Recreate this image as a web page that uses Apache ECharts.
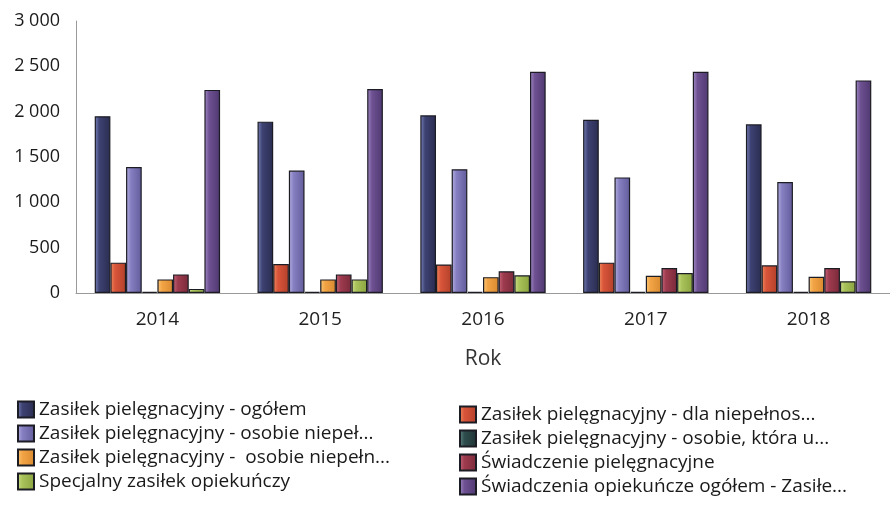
<!DOCTYPE html>
<html>
<head>
<meta charset="utf-8">
<script src="https://cdn.jsdelivr.net/npm/echarts@6/dist/echarts.min.js"></script>
<style>
  html, body { margin: 0; padding: 0; background: #ffffff; }
  #chart { width: 890px; height: 510px; }
</style>
</head>
<body>
<div id="chart"></div>
<script>
// Lata (kategorie osi X)
const years = ['2014', '2015', '2016', '2017', '2018'];

// Nazwy serii w kolejności rysowania słupków
const seriesNames = [
  'Zasiłek pielęgnacyjny - ogółem',
  'Zasiłek pielęgnacyjny - dla niepełnos...',
  'Zasiłek pielęgnacyjny - osobie niepeł...',
  'Zasiłek pielęgnacyjny - osobie, która u...',
  'Zasiłek pielęgnacyjny -  osobie niepełn...',
  'Świadczenie pielęgnacyjne',
  'Specjalny zasiłek opiekuńczy',
  'Świadczenia opiekuńcze ogółem - Zasiłe...'
];

// Wartości serii
const zpOgolem        = [1950, 1890, 1960, 1910, 1860];
const zpDlaNiepelnos  = [335, 320, 315, 335, 305];
const zpOsobieNiepel  = [1390, 1350, 1365, 1275, 1225];
const zpOsobieKtora   = [12, 12, 12, 12, 12];
const zpOsobieNiepeln = [150, 150, 175, 190, 180];
const swPielegnacyjne = [205, 205, 240, 275, 275];
const specjalnyZasilek = [45, 150, 195, 220, 130];
const swOpiekuncze    = [2240, 2250, 2440, 2440, 2345];

// Etykiety osi Y
const yTicks = [0, 500, 1000, 1500, 2000, 2500, 3000];

const values = [zpOgolem, zpDlaNiepelnos, zpOsobieNiepel, zpOsobieKtora,
                zpOsobieNiepeln, swPielegnacyjne, specjalnyZasilek, swOpiekuncze];

// Kolory słupków: jaśniejszy pasek po lewej, ciemniejszy po prawej
const palettes = [
  ['#7a84bd', '#3d4272', '#2a2c50'],
  ['#f08a5e', '#d8553a', '#b3402a'],
  ['#b6b0e2', '#8680c2', '#625b9a'],
  ['#5f8a88', '#2f4d4d', '#1f3333'],
  ['#fbc878', '#f2a445', '#d98a30'],
  ['#c8667a', '#9e3b4e', '#7a2a3a'],
  ['#cfe08a', '#a9c25a', '#8aa43f'],
  ['#a58cc8', '#6e5192', '#4f3870']
];

function barFill(p) {
  return {
    type: 'linear', x: 0, y: 0, x2: 1, y2: 0,
    colorStops: [
      { offset: 0, color: p[0] },
      { offset: 0.3, color: p[1] },
      { offset: 1, color: p[2] }
    ]
  };
}

function fmt(v) {
  return String(v).replace(/\B(?=(\d{3})+(?!\d))/g, ' ');
}

const chart = echarts.init(document.getElementById('chart'), null, { renderer: 'canvas' });

const legendText = { fontFamily: 'Open Sans', fontSize: 19, color: '#1a1a1a' };

chart.setOption({
  backgroundColor: '#ffffff',
  animation: false,
  grid: { left: 76, right: -15, top: 21, bottom: 217, containLabel: false },
  legend: [
    {
      orient: 'vertical', left: 12, top: 395,
      itemWidth: 16, itemHeight: 16, itemGap: 5,
      icon: 'rect',
      textStyle: legendText,
      data: [seriesNames[0], seriesNames[2], seriesNames[4], seriesNames[6]]
    },
    {
      orient: 'vertical', left: 454, top: 400,
      itemWidth: 16, itemHeight: 16, itemGap: 5,
      icon: 'rect',
      textStyle: legendText,
      data: [seriesNames[1], seriesNames[3], seriesNames[5], seriesNames[7]]
    }
  ],
  xAxis: {
    type: 'category',
    data: years,
    name: 'Rok',
    nameLocation: 'middle',
    nameGap: 56,
    nameTextStyle: { fontFamily: 'Open Sans', fontSize: 21, color: '#333333' },
    axisLine: { lineStyle: { color: '#9a9a9a', width: 1 } },
    axisTick: { show: false },
    axisLabel: { fontFamily: 'Open Sans', fontSize: 19, color: '#222222', margin: 17 }
  },
  yAxis: {
    type: 'value',
    min: yTicks[0],
    max: yTicks[yTicks.length - 1],
    interval: yTicks[1] - yTicks[0],
    axisLine: { show: true, lineStyle: { color: '#9a9a9a', width: 1 } },
    axisTick: { show: false },
    splitLine: { show: false },
    axisLabel: {
      fontFamily: 'Open Sans', fontSize: 18, color: '#1a1a1a', margin: 16,
      formatter: fmt
    }
  },
  series: seriesNames.map((name, i) => ({
    name: name,
    type: 'bar',
    data: values[i],
    barGap: '0%',
    barCategoryGap: '23%',
    itemStyle: {
      color: barFill(palettes[i]),
      borderColor: '#1c1c24',
      borderWidth: 1.2
    }
  }))
});
</script>
</body>
</html>
